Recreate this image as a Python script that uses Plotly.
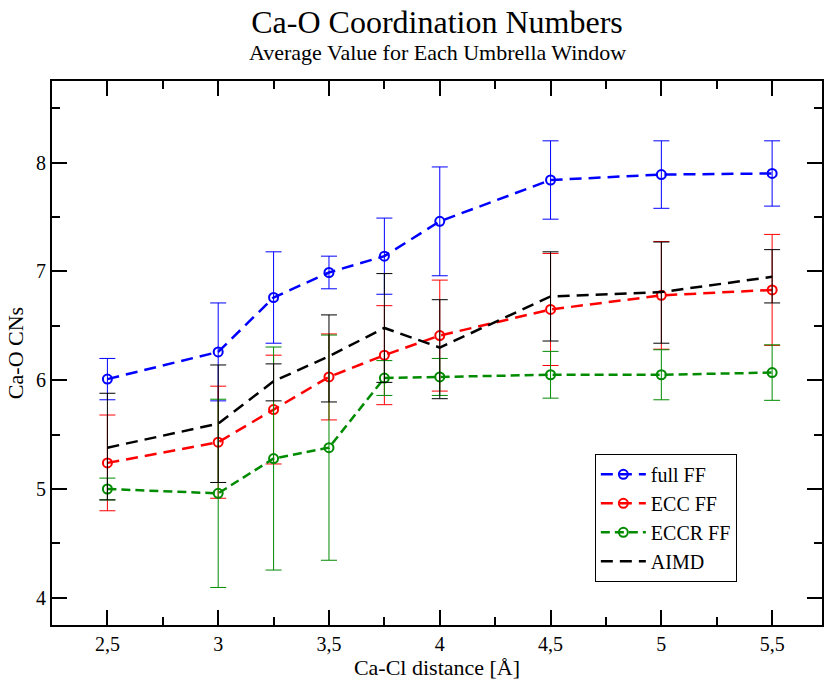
import plotly.graph_objects as go

# ---- data ----
distance = [2.5, 3.0, 3.25, 3.5, 3.75, 4.0, 4.5, 5.0, 5.5]

full_ff = [6.01, 6.26, 6.76, 6.99, 7.14, 7.46, 7.84, 7.89, 7.90]
full_ff_err = [0.19, 0.45, 0.42, 0.15, 0.35, 0.50, 0.36, 0.31, 0.30]

ecc_ff = [5.24, 5.43, 5.73, 6.03, 6.23, 6.41, 6.65, 6.78, 6.83]
ecc_ff_err = [0.44, 0.515, 0.50, 0.395, 0.455, 0.51, 0.515, 0.495, 0.51]

eccr_ff = [5.00, 4.96, 5.28, 5.38, 6.02, 6.03, 6.05, 6.05, 6.07]
eccr_ff_err = [0.10, 0.865, 1.025, 1.035, 0.16, 0.17, 0.215, 0.23, 0.255]

aimd = [5.38, 5.60, 5.99, 6.22, 6.48, 6.30, 6.77, 6.81, 6.95]
aimd_err_plus = [0.50, 0.54, 0.16, 0.38, 0.50, 0.44, 0.41, 0.46, 0.25]
aimd_err_minus = [0.48, 0.54, 0.18, 0.42, 0.50, 0.47, 0.41, 0.47, 0.24]

x_tickvals = [2.5, 3.0, 3.5, 4.0, 4.5, 5.0, 5.5]
y_tickvals = [4, 5, 6, 7, 8]

FONT = "Liberation Serif"
BLUE = "#0000ff"
RED = "#ff0000"
GREEN = "#008b00"
BLACK = "#000000"

fig = go.Figure()


def add_series(name, y, err, color, dash, markers=True, err_minus=None):
    ey = dict(type="data", array=err, color=color, thickness=1, width=8, visible=True)
    if err_minus is not None:
        ey["symmetric"] = False
        ey["arrayminus"] = err_minus
    fig.add_trace(go.Scatter(
        x=distance, y=y, name=name,
        mode="lines+markers" if markers else "lines",
        line=dict(color=color, width=2.5, dash=dash),
        marker=dict(symbol="circle-open", size=9, color=color, line=dict(width=2, color=color)),
        error_y=ey,
    ))


add_series("full FF", full_ff, full_ff_err, BLUE, "12px,7px")
add_series("ECC FF", ecc_ff, ecc_ff_err, RED, "12px,7px")
add_series("ECCR FF", eccr_ff, eccr_ff_err, GREEN, "9px,5px")
add_series("AIMD", aimd, aimd_err_plus, BLACK, "12px,7px", markers=False, err_minus=aimd_err_minus)

axis_common = dict(
    showline=True, linecolor="black", linewidth=2, mirror="ticks",
    ticks="inside", ticklen=15, tickwidth=1.5, tickcolor="black",
    showgrid=False, zeroline=False,
    tickfont=dict(family=FONT, size=20, color="black"),
)

fig.update_layout(
    width=824, height=684,
    margin=dict(l=52, r=0, t=81, b=59),
    paper_bgcolor="white", plot_bgcolor="white",
    separators=",.",
    font=dict(family=FONT, color="black"),
    title=dict(text="Ca-O Coordination Numbers", x=0.5, xref="paper", xanchor="center",
               y=1 - 22 / 684, yref="container", yanchor="middle",
               font=dict(family=FONT, size=32, color="black")),
    xaxis=dict(range=[2.25, 5.725], tickvals=x_tickvals,
               minor=dict(ticks="inside", ticklen=8, tickwidth=1.5, tickcolor="black", dtick=0.25, tick0=2.25),
               title=dict(text="Ca-Cl distance [Å]", font=dict(family=FONT, size=22), standoff=4),
               **axis_common),
    yaxis=dict(range=[3.75, 8.75], tickvals=y_tickvals,
               minor=dict(ticks="inside", ticklen=8, tickwidth=1.5, tickcolor="black", dtick=0.5, tick0=3.5),
               title=dict(text="Ca-O CNs", font=dict(family=FONT, size=22), standoff=6),
               **axis_common),
    legend=dict(x=0.705, y=0.197, xanchor="left", yanchor="middle",
                bgcolor="white", bordercolor="black", borderwidth=1,
                font=dict(family=FONT, size=20, color="black"),
                itemwidth=45, tracegroupgap=0),
    showlegend=True,
)

fig.add_annotation(text="Average Value for Each Umbrella Window", xref="paper", yref="paper",
                   x=0.5, y=1.053, xanchor="center", yanchor="middle", showarrow=False,
                   font=dict(family=FONT, size=22, color="black"))

fig.write_html("out.html")
